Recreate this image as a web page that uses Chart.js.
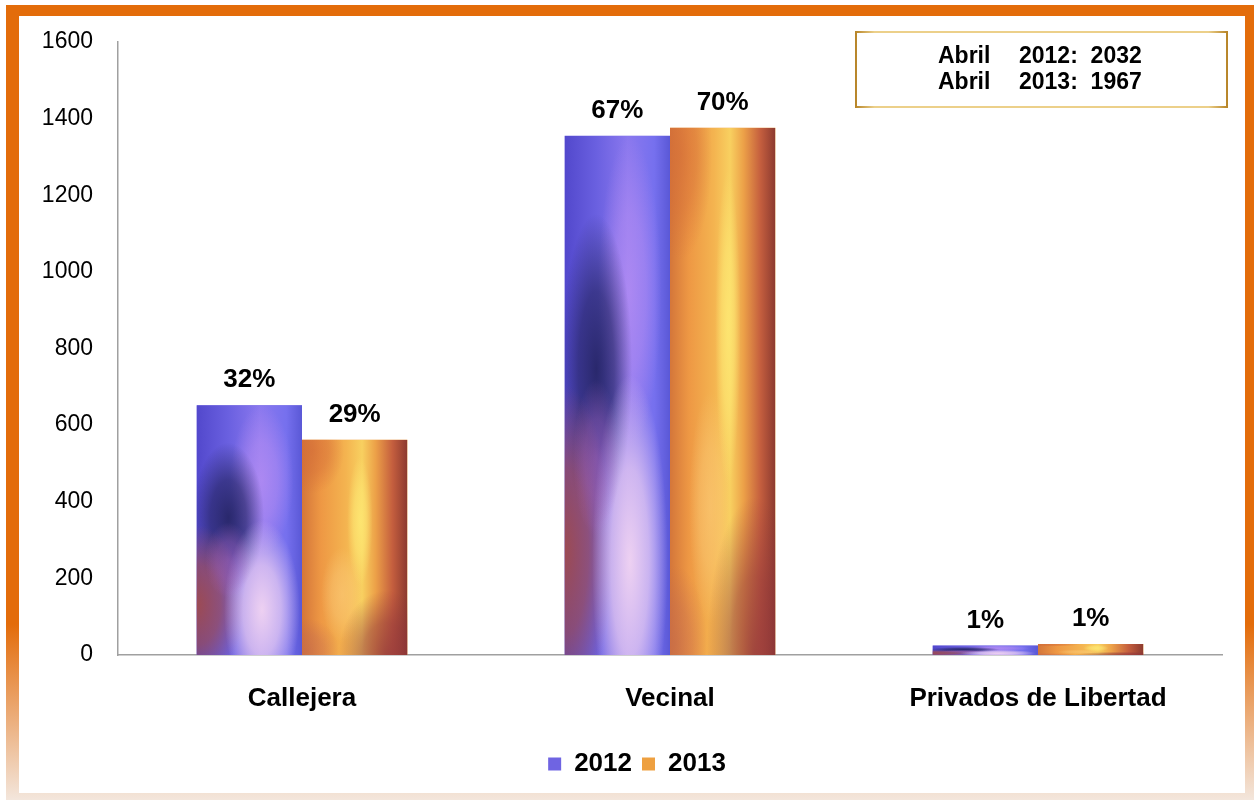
<!DOCTYPE html>
<html>
<head>
<meta charset="utf-8">
<script src="https://cdn.jsdelivr.net/npm/chart.js@4.4.1/dist/chart.umd.min.js"></script>
<style>
  html, body { margin: 0; padding: 0; background: #fff; }
  #wrap { width: 1254px; height: 800px; position: relative; }
</style>
</head>
<body>
<div id="wrap"><canvas id="chart" width="1254" height="800"></canvas></div>
<script>
// chart data
const categories = ['Callejera', 'Vecinal', 'Privados de Libertad'];
const seriesNames = ['2012', '2013'];
const values2012 = [652, 1355, 25];
const values2013 = [562, 1376, 29];
const pct2012 = ['32%', '67%', '1%'];
const pct2013 = ['29%', '70%', '1%'];
const yTicks = [0, 200, 400, 600, 800, 1000, 1200, 1400, 1600];
const totalsLines = [['Abril', '2012:  2032'], ['Abril', '2013:  1967']];

const FONT = '"Liberation Sans", Arial, sans-serif';

// soft ellipse blob inside current clip
function blob(ctx, cx, cy, rx, ry, color, alpha) {
    ctx.save();
    ctx.translate(cx, cy);
    ctx.scale(rx, ry);
    const g = ctx.createRadialGradient(0, 0, 0, 0, 0, 1);
    g.addColorStop(0, color.replace('A', alpha));
    g.addColorStop(0.5, color.replace('A', alpha * 0.7));
    g.addColorStop(1, color.replace('A', 0));
    ctx.fillStyle = g;
    ctx.fillRect(-1, -1, 2, 2);
    ctx.restore();
}

function paintBlue(ctx, x, y, w, h) {
    const g = ctx.createLinearGradient(x, 0, x + w, 0);
    g.addColorStop(0, '#5248cc');
    g.addColorStop(0.3, '#6a60e0');
    g.addColorStop(0.6, '#8a78ee');
    g.addColorStop(0.85, '#7670ee');
    g.addColorStop(1, '#5a58d6');
    ctx.fillStyle = g;
    ctx.fillRect(x, y, w, h);
    blob(ctx, x + 0.62 * w, y + 0.3 * h, 0.3 * w, 0.3 * h, 'rgba(200,150,245,A)', 0.55);
    blob(ctx, x + 0.3 * w, y + 0.45 * h, 0.34 * w, 0.3 * h, 'rgba(30,30,88,A)', 0.85);
    blob(ctx, x + 0.0 * w, y + 0.8 * h, 0.45 * w, 0.32 * h, 'rgba(165,75,70,A)', 0.9);
    blob(ctx, x + 0.62 * w, y + 0.82 * h, 0.36 * w, 0.36 * h, 'rgba(248,218,242,A)', 0.9);
    blob(ctx, x + 0.3 * w, y + 0.62 * h, 0.22 * w, 0.15 * h, 'rgba(190,110,200,A)', 0.45);
}

function paintOrange(ctx, x, y, w, h) {
    const g = ctx.createLinearGradient(x, 0, x + w, 0);
    g.addColorStop(0, '#d4763a');
    g.addColorStop(0.18, '#ee9844');
    g.addColorStop(0.42, '#f4b450');
    g.addColorStop(0.57, '#f8d060');
    g.addColorStop(0.7, '#eca048');
    g.addColorStop(0.86, '#c45e3e');
    g.addColorStop(1, '#8c3a30');
    ctx.fillStyle = g;
    ctx.fillRect(x, y, w, h);
    blob(ctx, x + 0.55 * w, y + 0.38 * h, 0.12 * w, 0.3 * h, 'rgba(255,238,120,A)', 0.7);
    blob(ctx, x + 0.38 * w, y + 0.72 * h, 0.2 * w, 0.22 * h, 'rgba(252,205,125,A)', 0.55);
    blob(ctx, x + 0.1 * w, y + 0.05 * h, 0.3 * w, 0.2 * h, 'rgba(210,105,55,A)', 0.6);
    blob(ctx, x + 0.8 * w, y + 1.0 * h, 0.45 * w, 0.3 * h, 'rgba(140,50,60,A)', 0.7);
    blob(ctx, x + 0.05 * w, y + 0.98 * h, 0.3 * w, 0.15 * h, 'rgba(190,100,80,A)', 0.5);
}

const painters = [paintBlue, paintOrange];
const pctLabels = [pct2012, pct2013];

const framePlugin = {
    id: 'frame',
    beforeDraw(chart) {
        const ctx = chart.ctx;
        const W = chart.width, H = chart.height;
        ctx.save();
        ctx.fillStyle = '#ffffff';
        ctx.fillRect(0, 0, W, H);
        const g = ctx.createLinearGradient(0, 0, 0, H);
        g.addColorStop(0, '#e36c0a');
        g.addColorStop(0.78, '#e36c0a');
        g.addColorStop(1, '#f3e6dc');
        ctx.fillStyle = g;
        ctx.fillRect(6, 5, W - 6, H - 5);
        ctx.fillStyle = '#ffffff';
        ctx.fillRect(19, 16, W - 19 - 9, H - 16 - 7);
        ctx.restore();
    },
    afterLayout(chart) {
        // centre the legend like the original
        const lg = chart.legend;
        if (lg) { lg.left += 26; lg.right += 26; }
    },
    afterDraw(chart) {
        // totals box top-right
        const ctx = chart.ctx;
        ctx.save();
        const bx = 856, by = 32, bw = 371, bh = 75;
        const bg = ctx.createLinearGradient(bx, 0, bx + bw, 0);
        bg.addColorStop(0, '#b8862a');
        bg.addColorStop(0.05, '#ecd08a');
        bg.addColorStop(0.95, '#ecd08a');
        bg.addColorStop(1, '#b8862a');
        ctx.strokeStyle = bg;
        ctx.lineWidth = 2;
        ctx.strokeRect(bx, by, bw, bh);
        ctx.fillStyle = '#000';
        ctx.font = 'bold 23px ' + FONT;
        ctx.textBaseline = 'middle';
        ctx.textAlign = 'left';
        totalsLines.forEach((ln, i) => {
            const ty = 57 + i * 26;
            ctx.fillText(ln[0], 938, ty);
            ctx.fillText(ln[1], 1019, ty);
        });
        ctx.restore();
    }
};

const barPaintPlugin = {
    id: 'barPaint',
    afterDatasetsDraw(chart) {
        const ctx = chart.ctx;
        chart.data.datasets.forEach((ds, di) => {
            const meta = chart.getDatasetMeta(di);
            meta.data.forEach((bar, i) => {
                const x = bar.x - bar.width / 2;
                const y = bar.y;
                const w = bar.width;
                const h = bar.base - bar.y;
                ctx.save();
                ctx.beginPath();
                ctx.rect(x, y, w, h);
                ctx.clip();
                painters[di](ctx, x, y, w, h);
                ctx.restore();
                ctx.save();
                ctx.fillStyle = '#000';
                ctx.font = 'bold 26px ' + FONT;
                ctx.textAlign = 'center';
                ctx.textBaseline = 'middle';
                ctx.fillText(pctLabels[di][i], bar.x, bar.y - 25);
                ctx.restore();
            });
        });
    }
};

new Chart(document.getElementById('chart'), {
    type: 'bar',
    data: {
        labels: categories,
        datasets: [
            { label: seriesNames[0], data: values2012, backgroundColor: '#6f64e2', borderWidth: 0,
              categoryPercentage: 0.5725, barPercentage: 1 },
            { label: seriesNames[1], data: values2013, backgroundColor: '#eea040', borderWidth: 0,
              categoryPercentage: 0.5725, barPercentage: 1 }
        ]
    },
    options: {
        responsive: false,
        animation: false,
        devicePixelRatio: 1,
        layout: { padding: { left: 0, right: 32, top: 42, bottom: 13 } },
        plugins: {
            legend: {
                position: 'bottom',
                labels: {
                    boxWidth: 13, boxHeight: 13, padding: 10, color: '#000',
                    font: { family: FONT, size: 26, weight: 'bold' }
                }
            },
            tooltip: { enabled: false }
        },
        scales: {
            x: {
                grid: { display: false, drawTicks: false },
                border: { display: true, color: '#a0a0a0', width: 1.5 },
                ticks: { color: '#000', padding: 28, font: { family: FONT, size: 26, weight: 'bold' } },
                afterFit: (s) => { s.height = 86; }
            },
            y: {
                min: yTicks[0],
                max: yTicks[yTicks.length - 1],
                grid: { display: false, drawTicks: false },
                border: { display: true, color: '#a0a0a0', width: 1.5 },
                afterBuildTicks: (s) => { s.ticks = yTicks.map(v => ({ value: v })); },
                ticks: { color: '#000', padding: 25, font: { family: FONT, size: 23 },
                         callback: (v) => String(v) },
                afterFit: (s) => { s.width = 118; }
            }
        }
    },
    plugins: [framePlugin, barPaintPlugin]
});
</script>
</body>
</html>
